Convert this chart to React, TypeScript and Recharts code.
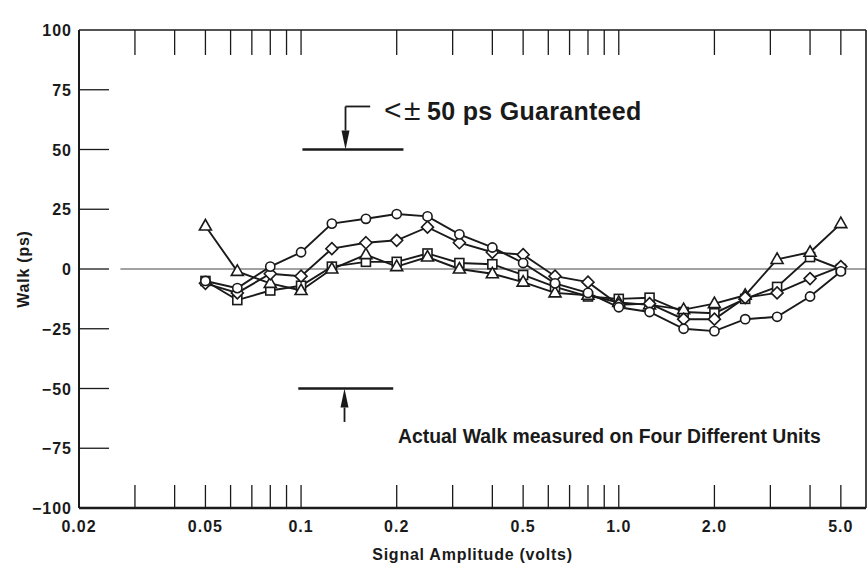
import { LineChart, Line, XAxis, YAxis, ReferenceLine, Label } from "recharts"

// signal amplitude (volts) of each measurement
const amplitude = [0.05, 0.063, 0.08, 0.1, 0.125, 0.16, 0.2, 0.25, 0.315, 0.4, 0.5, 0.63, 0.8, 1.0, 1.25, 1.6, 2.0, 2.5, 3.15, 4.0, 5.0]

// walk (ps) of the four units, named after their markers
const unitCircle = [-5, -8, 1, 7, 19, 21, 23, 22, 14.5, 9, 2.5, -6, -10, -16, -18, -25, -26, -21, -20, -11.5, -1]
const unitDiamond = [-6, -10, -2, -3, 8.5, 11, 12, 17.5, 11, 7, 6, -3, -5.5, -15, -14.5, -21, -21, -12, -10, -4, 1]
const unitTriangle = [18, -1, -6, -9, 0, 6, 1, 5, 0, -2, -5.5, -10, -11, -14, -15, -17, -14.5, -11, 4, 7, 19]
const unitSquare = [-5, -13, -9, -7, 1, 3, 3, 6.5, 2.5, 2, -2.5, -7.5, -11.5, -12.5, -12, -18, -18.5, -12.5, -7.5, 5, 0]

const xDomain = [0.02, 6]
const xTicks = [0.02, 0.03, 0.04, 0.05, 0.06, 0.07, 0.08, 0.09, 0.1, 0.2, 0.3, 0.4, 0.5, 0.6, 0.7, 0.8, 0.9, 1, 2, 3, 4, 5]
const xLabelTicks = [0.02, 0.05, 0.1, 0.2, 0.5, 1, 2, 5]
const yTicks = [-100, -75, -50, -25, 0, 25, 50, 75, 100]
const guaranteed = 50

const data = amplitude.map((x, i) => ({
  x,
  circle: unitCircle[i],
  diamond: unitDiamond[i],
  triangle: unitTriangle[i],
  square: unitSquare[i],
}))

const FONT = '"Liberation Sans", Arial, Helvetica, sans-serif'
const INK = "#1a1a1a"

const fmtX = (v: number) => (v >= 1 ? v.toFixed(1) : String(v))
const fmtY = (v: number) => (v < 0 ? "\u2212" + Math.abs(v) : String(v))

const BottomTick = ({ x, y, payload }: any) => {
  const v = payload.value
  return (
    <g>
      {v > xDomain[0] && <line x1={x} y1={y} x2={x} y2={y - 23} stroke={INK} strokeWidth={1.3} />}
      {xLabelTicks.includes(v) && (
        <text x={x} y={y + 24} textAnchor="middle" fontFamily={FONT} fontWeight="bold" fontSize={16} letterSpacing={1} fill={INK}>
          {fmtX(v)}
        </text>
      )}
    </g>
  )
}

const TopTick = ({ x, y, payload }: any) =>
  payload.value > xDomain[0] ? <line x1={x} y1={y} x2={x} y2={y + 25} stroke={INK} strokeWidth={1.3} /> : <g />

const LeftTick = ({ x, y, payload }: any) => {
  const v = payload.value
  return (
    <g>
      {Math.abs(v) < 100 && <line x1={x} y1={y} x2={x + 30} y2={y} stroke={INK} strokeWidth={1.3} />}
      <text x={x - 7} y={y + 6} textAnchor="end" fontFamily={FONT} fontWeight="bold" fontSize={16} letterSpacing={1} fill={INK}>
        {fmtY(v)}
      </text>
    </g>
  )
}

const RightTick = ({ x, y, payload }: any) =>
  Math.abs(payload.value) < 100 && payload.value !== 0 ? (
    <line x1={x} y1={y} x2={x - 27} y2={y} stroke={INK} strokeWidth={1.3} />
  ) : (
    <g />
  )

const markerStyle = { fill: "#fff", stroke: INK, strokeWidth: 1.6 }

const circleDot = (p: any) => <circle key={p.index} cx={p.cx} cy={p.cy} r={4.6} {...markerStyle} />
const squareDot = (p: any) => <rect key={p.index} x={p.cx - 4.5} y={p.cy - 4.5} width={9} height={9} {...markerStyle} />
const diamondDot = (p: any) => (
  <polygon key={p.index} points={`${p.cx},${p.cy - 6} ${p.cx + 6},${p.cy} ${p.cx},${p.cy + 6} ${p.cx - 6},${p.cy}`} {...markerStyle} />
)
const triangleDot = (p: any) => (
  <polygon key={p.index} points={`${p.cx},${p.cy - 6.5} ${p.cx + 6},${p.cy + 4} ${p.cx - 6},${p.cy + 4}`} {...markerStyle} />
)

// vertical arrow with a filled head at the second point
const Arrow = (p: any) => {
  const { x1, y1, x2, y2 } = p
  const dir = y2 > y1 ? 1 : -1
  const head = 19
  return (
    <g>
      <line x1={x1} y1={y1} x2={x2} y2={y2 - dir * head} stroke={INK} strokeWidth={1.8} />
      <polygon points={`${x2},${y2} ${x2 - 4},${y2 - dir * head} ${x2 + 4},${y2 - dir * head}`} fill={INK} />
    </g>
  )
}

export default function App() {
  return (
    <div style={{ position: "absolute", left: 0, top: 0, width: 867, height: 569, background: "#fff" }}>
      <LineChart width={867} height={569} data={data} margin={{ top: 0, right: 0, bottom: 0, left: 0 }}>
        <XAxis
          dataKey="x"
          type="number"
          scale="log"
          domain={xDomain}
          allowDataOverflow
          ticks={xTicks}
          interval={0}
          height={61}
          tickSize={0}
          tickMargin={0}
          tick={<BottomTick />}
          tickLine={false}
          axisLine={{ stroke: INK, strokeWidth: 2.4 }}
        >
          <Label
            value="Signal Amplitude (volts)"
            position="insideBottom"
            offset={9}
            style={{ fontFamily: FONT, fontWeight: "bold", fontSize: 16, letterSpacing: 0.75, fill: INK }}
          />
        </XAxis>
        <XAxis
          xAxisId="top"
          dataKey="x"
          orientation="top"
          type="number"
          scale="log"
          domain={xDomain}
          allowDataOverflow
          ticks={xTicks}
          interval={0}
          height={30}
          tickSize={0}
          tickMargin={0}
          tick={<TopTick />}
          tickLine={false}
          axisLine={{ stroke: INK, strokeWidth: 1.6 }}
        />
        <YAxis
          type="number"
          domain={[-100, 100]}
          ticks={yTicks}
          interval={0}
          width={79}
          tickSize={0}
          tickMargin={0}
          tick={<LeftTick />}
          tickLine={false}
          axisLine={{ stroke: INK, strokeWidth: 2 }}
        >
          <Label
            content={({ viewBox }: any) => {
              const cx = viewBox.x + 29
              const cy = viewBox.y + viewBox.height / 2
              return (
                <text
                  x={cx}
                  y={cy}
                  transform={`rotate(-90, ${cx}, ${cy})`}
                  textAnchor="middle"
                  fontFamily={FONT}
                  fontWeight="bold"
                  fontSize={16}
                  letterSpacing={0.75}
                  fill={INK}
                >
                  Walk (ps)
                </text>
              )
            }}
          />
        </YAxis>
        <YAxis
          yAxisId="right"
          orientation="right"
          type="number"
          domain={[-100, 100]}
          ticks={yTicks}
          interval={0}
          width={1}
          tickSize={0}
          tickMargin={0}
          tick={<RightTick />}
          tickLine={false}
          axisLine={{ stroke: INK, strokeWidth: 1.6 }}
        />

        <ReferenceLine segment={[{ x: 0.027, y: 0 }, { x: 6, y: 0 }]} stroke="#444" strokeWidth={1} />

        {/* guaranteed band markers */}
        <ReferenceLine segment={[{ x: 0.101, y: guaranteed }, { x: 0.21, y: guaranteed }]} stroke={INK} strokeWidth={2.4} />
        <ReferenceLine segment={[{ x: 0.098, y: -guaranteed }, { x: 0.195, y: -guaranteed }]} stroke={INK} strokeWidth={2.4} />
        <ReferenceLine segment={[{ x: 0.138, y: 68 }, { x: 0.165, y: 68 }]} stroke={INK} strokeWidth={1.8} />
        <ReferenceLine segment={[{ x: 0.138, y: 68 }, { x: 0.138, y: guaranteed }]} shape={Arrow} />
        <ReferenceLine segment={[{ x: 0.137, y: -64 }, { x: 0.137, y: -guaranteed }]} shape={Arrow} />

        <Line dataKey="square" stroke={INK} strokeWidth={1.9} dot={squareDot} isAnimationActive={false} />
        <Line dataKey="triangle" stroke={INK} strokeWidth={1.9} dot={triangleDot} isAnimationActive={false} />
        <Line dataKey="diamond" stroke={INK} strokeWidth={1.9} dot={diamondDot} isAnimationActive={false} />
        <Line dataKey="circle" stroke={INK} strokeWidth={1.9} dot={circleDot} isAnimationActive={false} />
      </LineChart>

      <svg width={867} height={569} style={{ position: "absolute", left: 0, top: 0, pointerEvents: "none" }}>
        <text y={120} fontFamily={FONT} fill={INK}>
          <tspan x={384} fontSize={30} fontWeight="normal">&lt;</tspan>
          <tspan x={404} fontSize={30} fontWeight="normal">±</tspan>
          <tspan x={427} fontSize={25} fontWeight="bold" letterSpacing={0.3}>50 ps Guaranteed</tspan>
        </text>
        <text x={398} y={443} fontFamily={FONT} fontWeight="bold" fontSize={19.4} fill={INK}>
          Actual Walk measured on Four Different Units
        </text>
      </svg>
    </div>
  )
}
